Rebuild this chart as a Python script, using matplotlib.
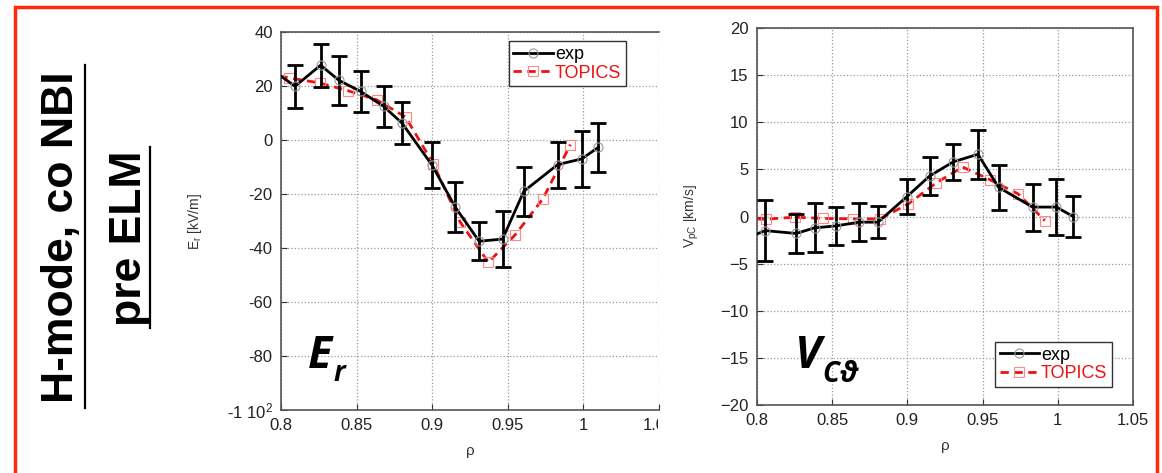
import matplotlib.pyplot as plt
from matplotlib.lines import Line2D
from matplotlib.patches import Rectangle
from matplotlib.transforms import Bbox, TransformedBbox

plt.rcParams["font.family"] = ["Liberation Sans", "DejaVu Sans"]
plt.rcParams["mathtext.default"] = "regular"

# --- E_r panel (kV/m) ---
er_rho = [0.793, 0.8093, 0.8262, 0.8383, 0.8526, 0.8678, 0.880, 0.900, 0.9152,
          0.931, 0.9465, 0.9606, 0.983, 0.9989, 1.0099]
er_exp = [26.4, 19.9, 27.7, 22.1, 18.0, 12.5, 6.3, -9.4, -24.8,
          -37.5, -36.7, -19.0, -9.1, -7.0, -2.7]
er_err = [8.0, 8.0, 8.0, 9.0, 7.6, 7.6, 7.8, 8.5, 9.2,
          7.0, 10.5, 9.0, 8.5, 10.3, 9.0]
er_top_rho = [0.79, 0.8055, 0.8258, 0.844, 0.8632, 0.8824, 0.9007, 0.9185,
              0.9372, 0.9549, 0.9733, 0.9914]
er_top = [24.7, 23.0, 21.1, 18.3, 14.9, 8.5, -8.8, -30.4,
          -45.3, -35.1, -21.7, -1.7]

# --- V_C theta panel (km/s) ---
v_rho = [0.793, 0.8055, 0.8261, 0.8383, 0.8524, 0.868, 0.8805, 0.8996, 0.9148,
         0.9305, 0.9469, 0.9606, 0.9832, 0.9991, 1.0102]
v_exp = [-2.3, -1.5, -1.8, -1.2, -1.0, -0.6, -0.6, 2.1, 4.3,
         5.8, 6.6, 3.1, 1.0, 1.0, 0.0]
v_err = [3.2, 3.2, 2.1, 2.6, 2.0, 2.0, 1.7, 1.85, 2.0,
         1.9, 2.6, 2.4, 2.5, 3.0, 2.15]
v_top_rho = [0.79, 0.8062, 0.8254, 0.8442, 0.8635, 0.8819, 0.9007, 0.919,
             0.9367, 0.9549, 0.9735, 0.9914]
v_top = [-0.25, -0.28, -0.07, -0.21, -0.25, -0.25, 1.35, 3.55,
         5.25, 3.9, 2.41, -0.43]

rho_ticks = [0.8, 0.85, 0.9, 0.95, 1.0, 1.05]
rho_labels = ["0.8", "0.85", "0.9", "0.95", "1", "1.05"]
er_ticks = [-100, -80, -60, -40, -20, 0, 20, 40]
er_labels = ["-1 10$^{2}$", "-80", "-60", "-40", "-20", "0", "20", "40"]
v_ticks = [-20, -15, -10, -5, 0, 5, 10, 15, 20]

W, H = 1162, 473
fig = plt.figure(figsize=(W / 100, H / 100), dpi=100)


def px(x0, y0, x1, y1):
    return [x0 / W, 1 - y1 / H, (x1 - x0) / W, (y1 - y0) / H]


def style(ax):
    ax.grid(True, color="#999999", linestyle=":", linewidth=0.9)
    ax.set_axisbelow(True)
    ax.tick_params(direction="in", length=4, width=0.8, labelsize=12,
                   colors="#333333", labelcolor="#222222", pad=6)
    for s in ax.spines.values():
        s.set_color("#555555")
        s.set_linewidth(1.2)


def draw(ax, rho, val, err, trho, tval):
    ax.errorbar(rho, val, yerr=err, fmt="none", ecolor="black",
                elinewidth=2, capsize=6, capthick=2, zorder=3)
    ax.plot(rho, val, "-", color="black", lw=2, marker="o", ms=6.5,
            mfc="none", mec="#999999", mew=0.8, label="exp", zorder=4)
    ax.plot(trho, tval, "--", color="#ee1111", lw=2, dashes=(3, 2),
            marker="s", ms=7, mfc="none", mec="#ff8888", mew=0.8,
            label="TOPICS", zorder=2)


legend_kw = dict(fontsize=13, fancybox=False, framealpha=1,
                 edgecolor="#333333", handlelength=2.2, handletextpad=0.1,
                 borderpad=0.25, labelspacing=0.1, borderaxespad=0,
                 labelcolor="linecolor")

ax1 = fig.add_axes(px(281, 32, 659, 410))
draw(ax1, er_rho, er_exp, er_err, er_top_rho, er_top)
ax1.set_xlim(0.8, 1.05)
ax1.set_ylim(-100, 40)
ax1.set_xticks(rho_ticks, rho_labels)
ax1.set_yticks(er_ticks, er_labels)
style(ax1)
ax1.spines["right"].set_visible(False)
ax1.set_ylabel("E$_r$ [kV/m]", fontsize=10, color="#333333", labelpad=16)
ax1.set_xlabel("ρ", fontsize=11, color="#333333", labelpad=8)
ax1.legend(loc="upper left", bbox_to_anchor=(0.603, 0.975), **legend_kw)

# left panel image is cut on its right side
clip1 = TransformedBbox(Bbox([[0, 0], [658 / W, 1]]), fig.transFigure)
for lbl in ax1.get_xticklabels():
    lbl.set_clip_box(clip1)
    lbl.set_clip_on(True)

ax2 = fig.add_axes(px(757, 28, 1133, 405))
draw(ax2, v_rho, v_exp, v_err, v_top_rho, v_top)
ax2.set_xlim(0.8, 1.05)
ax2.set_ylim(-20, 20)
ax2.set_xticks(rho_ticks, rho_labels)
ax2.set_yticks(v_ticks)
style(ax2)
ax2.set_ylabel("V$_{pC}$ [km/s]", fontsize=10, color="#333333", labelpad=14)
ax2.set_xlabel("ρ", fontsize=11, color="#333333", labelpad=8)
ax2.legend(loc="lower left", bbox_to_anchor=(0.633, 0.048), **legend_kw)

# right panel image is cut on its left side
clip2 = TransformedBbox(Bbox([[683 / W, 0], [1, 1]]), fig.transFigure)
ax2.yaxis.label.set_clip_box(clip2)
ax2.yaxis.label.set_clip_on(True)

# big panel labels
big = dict(fontsize=32, fontweight="bold", fontstyle="italic",
           family=["Open Sans", "DejaVu Sans"], color="black")
sub = dict(fontsize=20, fontweight="bold", fontstyle="italic",
           family=["Open Sans", "DejaVu Sans"], color="black")
fig.text(308 / W, 1 - 368 / H, "E", ha="left", va="baseline", **big)
fig.text(334 / W, 1 - 381 / H, "r", ha="left", va="baseline", **sub)
fig.text(795 / W, 1 - 368 / H, "V", ha="left", va="baseline", **big)
fig.text(822 / W, 1 - 382 / H, "Cϑ", ha="left", va="baseline", **sub)

# side title with underlines
fig.text(62 / W, 1 - 237 / H, "H-mode, co NBI", rotation=90, ha="center",
         va="center", fontsize=32, fontweight="bold")
fig.text(130 / W, 1 - 238 / H, "pre ELM", rotation=90, ha="center",
         va="center", fontsize=32, fontweight="bold")
fig.add_artist(Line2D([85 / W, 85 / W], [1 - 65 / H, 1 - 408 / H],
                      color="black", lw=1.6, transform=fig.transFigure))
fig.add_artist(Line2D([150 / W, 150 / W], [1 - 147 / H, 1 - 328 / H],
                      color="black", lw=1.6, transform=fig.transFigure))

# red frame
fig.add_artist(Rectangle((15 / W, -0.05), (1157 - 15) / W, 1.05 - 7 / H,
                         transform=fig.transFigure, fill=False,
                         edgecolor="#ff2a0a", lw=2.5))

fig.savefig("out.png", dpi=100)
